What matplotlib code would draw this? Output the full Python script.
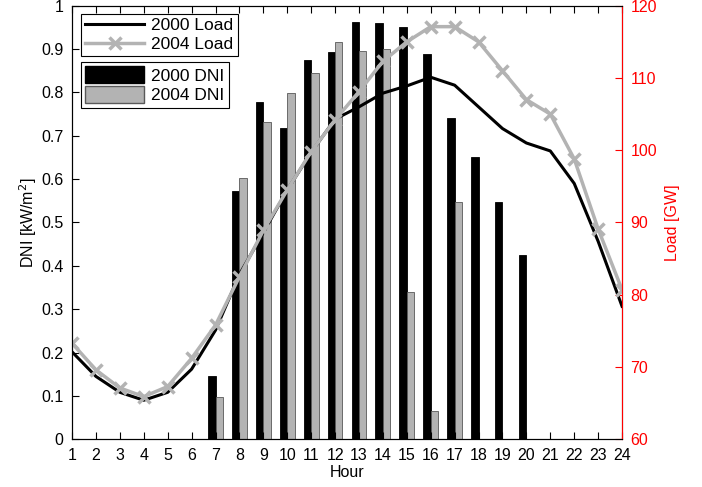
import matplotlib
matplotlib.use("Agg")
import matplotlib.pyplot as plt
import matplotlib.patches as mpatches
from matplotlib.lines import Line2D
import numpy as np

plt.rcParams['font.family'] = ['Liberation Sans', 'DejaVu Sans']
plt.rcParams['font.size'] = 11.5

# hourly data
hours = list(range(1, 25))
dni_2000 = [0, 0, 0, 0, 0, 0, 0.146, 0.573, 0.779, 0.718, 0.874, 0.894,
            0.963, 0.961, 0.952, 0.889, 0.742, 0.652, 0.547, 0.426, 0, 0, 0, 0]
dni_2004 = [0, 0, 0, 0, 0, 0, 0.098, 0.602, 0.731, 0.798, 0.844, 0.917,
            0.896, 0.901, 0.340, 0.066, 0.547, 0, 0, 0, 0, 0, 0, 0]
load_2000 = [72.1, 68.7, 66.5, 65.4, 66.5, 69.7, 75.1, 82.8, 88.6, 94.5, 99.7, 104.3,
             106.0, 107.9, 108.9, 110.1, 109.0, 106.0, 103.0, 101.0, 99.9, 95.4, 87.4, 78.4]
load_2004 = [73.3, 69.6, 67.1, 65.9, 67.3, 71.2, 75.8, 82.5, 88.9, 94.5, 99.8, 104.2,
             108.1, 112.3, 115.0, 117.1, 117.1, 115.0, 111.0, 107.0, 105.0, 98.8, 89.1, 80.7]

x = np.array(hours)
gray = (0.7, 0.7, 0.7)

fig = plt.figure(figsize=(7.02, 4.87), dpi=100)
ax = fig.add_axes([0.1026, 0.098, 0.7835, 0.8903])

# bars
w = 0.31
ax.bar(x - w / 2, dni_2000, w, color='black', edgecolor='black', linewidth=0.6)
ax.bar(x + w / 2, dni_2004, w, color=gray, edgecolor='0.35', linewidth=0.6)

ax.set_xlim(1, 24)
ax.set_ylim(0, 1)
ax.set_xticks(hours)
ax.set_yticks(np.arange(0, 1.01, 0.1))
ax.set_yticklabels(['0'] + ['%.1f' % v for v in np.arange(0.1, 0.95, 0.1)] + ['1'])
ax.tick_params(direction='in', top=True, right=True, length=5, width=0.8, pad=6)
ax.set_xlabel('Hour', labelpad=2)
ax.set_ylabel('DNI [kW/m$^2$]', labelpad=2)

# load lines on right axis
ax2 = ax.twinx()
ax2.plot(x, load_2000, color='black', lw=2.2)
ax2.plot(x, load_2004, color=gray, lw=2.5, marker='x', markersize=9, mew=2.5)
ax2.set_ylim(60, 120)
ax2.set_yticks(range(60, 121, 10))
ax2.tick_params(axis='y', colors='red', direction='in', length=5, width=0.8, pad=6)
ax2.spines['right'].set_color('red')
ax2.set_ylabel('Load [GW]', color='red', labelpad=6)

# legends
line_handles = [Line2D([], [], color='black', lw=2.2),
                Line2D([], [], color=gray, lw=2.5, marker='x', markersize=9, mew=2.5)]
leg1 = ax2.legend(line_handles, ['2000 Load', '2004 Load'], loc='upper left',
                  bbox_to_anchor=(0.016, 0.981), borderaxespad=0, fancybox=False,
                  edgecolor='black', framealpha=1, handlelength=3.4, fontsize=12.5,
                  borderpad=0.25, labelspacing=0.2, handletextpad=0.4)
leg1.get_frame().set_linewidth(0.8)
ax2.add_artist(leg1)

bar_handles = [mpatches.Patch(facecolor='black', edgecolor='black'),
               mpatches.Patch(facecolor=gray, edgecolor='0.35')]
leg2 = ax2.legend(bar_handles, ['2000 DNI', '2004 DNI'], loc='upper left',
                  bbox_to_anchor=(0.016, 0.870), borderaxespad=0, fancybox=False,
                  edgecolor='black', framealpha=1, handlelength=3.4, handleheight=1.1,
                  fontsize=12.5, borderpad=0.25, labelspacing=0.15, handletextpad=0.4)
leg2.get_frame().set_linewidth(0.8)

fig.savefig('out.png', dpi=100)
